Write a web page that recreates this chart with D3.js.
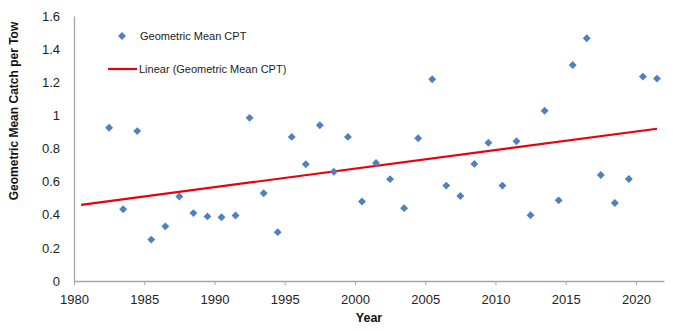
<!DOCTYPE html>
<html>
<head>
<meta charset="utf-8">
<script src="https://cdn.jsdelivr.net/npm/d3@7"></script>
<style>
	body { margin: 0; background: #fff; }
	text { font-family: "Liberation Sans", Arial, sans-serif; }
</style>
</head>
<body>
<div id="chart"></div>
<script>
// survey years (points are plotted at mid-year)
var years = [1982, 1983, 1984, 1985, 1986, 1987, 1988, 1989, 1990, 1991,
	1992, 1993, 1994, 1995, 1996, 1997, 1998, 1999, 2000, 2001,
	2002, 2003, 2004, 2005, 2006, 2007, 2008, 2009, 2010, 2011,
	2012, 2013, 2014, 2015, 2016, 2017, 2018, 2019, 2020, 2021];

var geoMeanCPT = [0.925, 0.433, 0.905, 0.25, 0.33, 0.51, 0.41, 0.39, 0.385, 0.395,
	0.985, 0.53, 0.295, 0.87, 0.705, 0.94, 0.66, 0.87, 0.48, 0.712,
	0.615, 0.44, 0.862, 1.218, 0.576, 0.513, 0.707, 0.835, 0.576, 0.844,
	0.397, 1.028, 0.487, 1.304, 1.466, 0.64, 0.471, 0.616, 1.234, 1.222];

var xTicks = [1980, 1985, 1990, 1995, 2000, 2005, 2010, 2015, 2020];
var yTicks = [0, 0.2, 0.4, 0.6, 0.8, 1, 1.2, 1.4, 1.6];

var seriesName = "Geometric Mean CPT";
var trendName = "Linear (Geometric Mean CPT)";

var margin = {top: 16, right: 17, bottom: 50, left: 74},
	width = 681 - margin.left - margin.right,
	height = 331 - margin.top - margin.bottom;

var data = years.map(function(yr, i) { return {x: yr + 0.5, y: geoMeanCPT[i]}; });

// least squares trend line (like excel's linear trendline)
var mx = d3.mean(data, function(d) { return d.x; }),
	my = d3.mean(data, function(d) { return d.y; }),
	sxy = d3.sum(data, function(d) { return (d.x - mx) * (d.y - my); }),
	sxx = d3.sum(data, function(d) { return (d.x - mx) * (d.x - mx); }),
	slope = sxy / sxx,
	intercept = my - slope * mx;

var x = d3.scaleLinear().domain([1980, 2022]).range([0, width]);
var y = d3.scaleLinear().domain([0, 1.6]).range([height, 0]);

var svg = d3.select("#chart").append("svg")
	.attr("width", 681)
	.attr("height", 331);

var g = svg.append("g")
	.attr("transform", "translate(" + margin.left + "," + margin.top + ")");

// x axis
var xAxis = d3.axisBottom(x).tickValues(xTicks).tickFormat(d3.format("d")).tickSize(4).tickSizeOuter(0);
var gx = g.append("g")
	.attr("transform", "translate(0," + height + ")")
	.call(xAxis);
gx.select(".domain").attr("stroke", "#a6a6a6").attr("stroke-width", 1.3);
gx.selectAll(".tick line").attr("stroke", "#a6a6a6");
gx.selectAll(".tick text").attr("dy", "1.2em").attr("font-size", 13).attr("fill", "#222")
	.attr("font-family", "Liberation Sans, Arial, sans-serif");

// y axis
var yAxis = d3.axisLeft(y).tickValues(yTicks).tickFormat(function(d) { return d3.format("")(+d.toFixed(1)); })
	.tickSize(0).tickPadding(14);
var gy = g.append("g").call(yAxis);
gy.select(".domain").attr("stroke", "#a6a6a6").attr("stroke-width", 1.3);
gy.selectAll(".tick text").attr("font-size", 13).attr("fill", "#222")
	.attr("font-family", "Liberation Sans, Arial, sans-serif");

// trend line, from 2 years before the first point to the last point
var x0 = d3.min(data, function(d) { return d.x; }) - 2,
	x1 = d3.max(data, function(d) { return d.x; });
g.append("line")
	.attr("x1", x(x0)).attr("y1", y(intercept + slope * x0))
	.attr("x2", x(x1)).attr("y2", y(intercept + slope * x1))
	.attr("stroke", "#e8000b")
	.attr("stroke-width", 2.2);

// points
var diamond = d3.symbol().type(d3.symbolDiamond2).size(40);
g.selectAll("path.pt")
	.data(data)
	.enter()
	.append("path")
	.attr("class", "pt")
	.attr("d", diamond)
	.attr("transform", function(d) { return "translate(" + x(d.x) + "," + y(d.y) + ")"; })
	.attr("fill", "#4f81bd");

// legend
svg.append("path")
	.attr("d", diamond)
	.attr("transform", "translate(122,36)")
	.attr("fill", "#4f81bd");
svg.append("text")
	.attr("x", 140).attr("y", 40)
	.attr("font-size", 11).attr("fill", "#222")
	.text(seriesName);
svg.append("line")
	.attr("x1", 108).attr("x2", 137).attr("y1", 69).attr("y2", 69)
	.attr("stroke", "#e8000b").attr("stroke-width", 2.2);
svg.append("text")
	.attr("x", 139).attr("y", 73)
	.attr("font-size", 11).attr("fill", "#222")
	.text(trendName);

// axis titles
svg.append("text")
	.attr("x", margin.left + width / 2).attr("y", 322)
	.attr("text-anchor", "middle")
	.attr("font-size", 12.5).attr("font-weight", "bold").attr("fill", "#111")
	.text("Year");

svg.append("text")
	.attr("transform", "translate(18,111) rotate(-90)")
	.attr("text-anchor", "middle")
	.attr("font-size", 12).attr("font-weight", "bold").attr("fill", "#111")
	.text("Geometric Mean Catch per Tow");
</script>
</body>
</html>
